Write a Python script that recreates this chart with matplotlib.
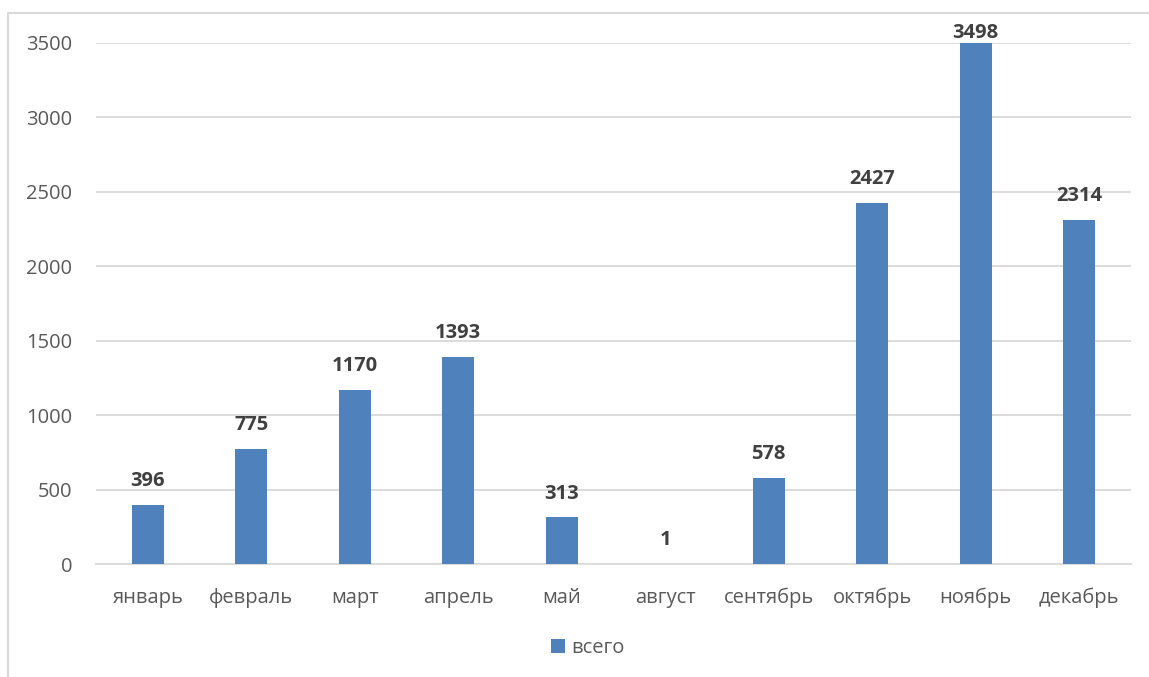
import matplotlib
matplotlib.use("Agg")
import matplotlib.pyplot as plt
from matplotlib.patches import Rectangle

months = ['январь', 'февраль', 'март', 'апрель', 'май', 'август',
          'сентябрь', 'октябрь', 'ноябрь', 'декабрь']
totals = [396, 775, 1170, 1393, 313, 1, 578, 2427, 3498, 2314]
series_name = 'всего'
yticks = [0, 500, 1000, 1500, 2000, 2500, 3000, 3500]

plt.rcParams['font.family'] = ['Open Sans', 'DejaVu Sans']

W, H = 1149, 677
fig = plt.figure(figsize=(W / 100, H / 100), dpi=100)

# outer chart border (cropped on right/bottom)
fig.patches.append(Rectangle((8 / W, -0.1), 1.2, 1 - 13 / H + 0.1,
                             transform=fig.transFigure, fill=False,
                             edgecolor='#d9d9d9', linewidth=1.5))

ax = fig.add_axes([96 / W, 1 - 564 / H, (1131 - 96) / W, (564 - 43) / H])
x = range(len(months))
bars = ax.bar(x, totals, width=0.31, color='#4f81bd', zorder=3)
ymax = yticks[-1]
for xi, v in zip(x, totals):
    # labels near the top get pushed down like Excel does
    off = 10 if v < 0.9 * ymax else 0
    ax.annotate(str(v), (xi, v), xytext=(0, off), textcoords='offset points',
                ha='center', va='bottom', fontsize=14.5, fontweight='bold',
                color='#404040', annotation_clip=False, zorder=5)

ax.set_xlim(-0.5, len(months) - 0.5)
ax.set_ylim(0, ymax)
ax.set_yticks(yticks)
ax.set_xticks(list(x))
ax.set_xticklabels(months)
ax.tick_params(axis='both', length=0, labelsize=14.5, labelcolor='#595959')
ax.tick_params(axis='x', pad=17)
ax.tick_params(axis='y', pad=17)
ax.grid(axis='y', color='#d9d9d9', linewidth=1.3, zorder=0)
for s in ['top', 'right', 'left']:
    ax.spines[s].set_visible(False)
ax.spines['bottom'].set_color('#d9d9d9')
ax.spines['bottom'].set_linewidth(1.3)

leg = fig.legend([bars], [series_name], loc='center', bbox_to_anchor=(588 / W, 1 - 648 / H),
                 frameon=False, fontsize=14.5, handlelength=0.7, handleheight=0.7,
                 handletextpad=0.3)
for t in leg.get_texts():
    t.set_color('#595959')

fig.savefig('out.png', dpi=100)
